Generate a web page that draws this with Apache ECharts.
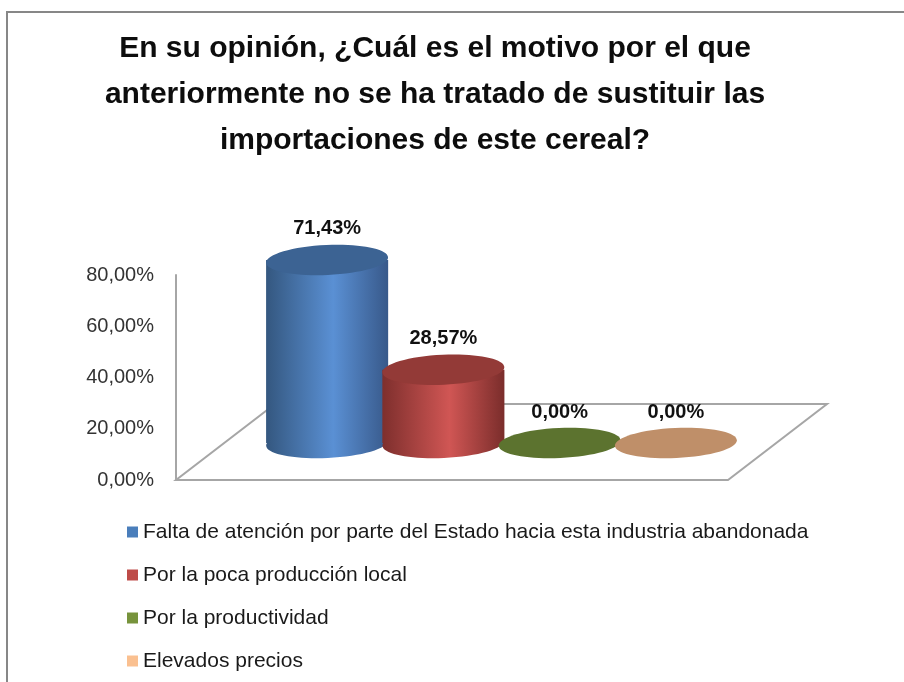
<!DOCTYPE html>
<html>
<head>
<meta charset="utf-8">
<title>Motivo de no sustituir importaciones</title>
<script src="https://cdn.jsdelivr.net/npm/echarts@6/dist/echarts.min.js"></script>
<style>
  html, body { margin: 0; padding: 0; background: #fff; }
  #main { width: 904px; height: 682px; }
</style>
</head>
<body>
<div id="main"></div>
<script>
// datos del grafico
var categories = [
  'Falta de atención por parte del Estado hacia esta industria abandonada',
  'Por la poca producción local',
  'Por la productividad',
  'Elevados precios'
];
var values = [71.43, 28.57, 0, 0];
var yTicks = [0, 20, 40, 60, 80];

// colores de la leyenda
var legendColors = ['#4A7EBB', '#BE4B48', '#77933C', '#FAC090'];
// cuerpo del cilindro (borde, centro, borde) y tapa
var bodyColors = [
  ['#34577F', '#5A90D4', '#38598A'],
  ['#7E2F2D', '#D05654', '#7A2D2B'],
  ['#4E6228', '#6E8A38', '#4E6228'],
  ['#A77A57', '#C99A74', '#A77A57']
];
var topColors = ['#3C6393', '#933A37', '#5C732F', '#BF8F69'];

var FONT = 'Liberation Sans';
var DEPTH_DY = -37;   // desplazamiento de profundidad (3D)
var ELL_RY = 15;
var ELL_TILT = 0.045; // inclinacion de las elipses
var BAR_RATIO = 1.05;

function fmt(v) {
  return v.toFixed(2).replace('.', ',') + '%';
}

function ellipse(cx, cy, rx, fill) {
  return {
    type: 'ellipse',
    shape: { cx: cx, cy: cy, rx: rx, ry: ELL_RY },
    rotation: ELL_TILT,
    originX: cx,
    originY: cy,
    style: { fill: fill }
  };
}

function renderCylinder(params, api) {
  var i = api.value(0);
  var v = api.value(1);
  var base = api.coord([i, 0]);
  var top = api.coord([i, v]);
  var w = api.size([1, 0])[0] * BAR_RATIO;
  var rx = w / 2;
  var cx = base[0];
  var by = base[1] + DEPTH_DY;
  var ty = top[1] + DEPTH_DY;
  var c = bodyColors[i];
  var grad = function () {
    return new echarts.graphic.LinearGradient(0, 0, 1, 0, [
      { offset: 0, color: c[0] },
      { offset: 0.55, color: c[1] },
      { offset: 1, color: c[2] }
    ]);
  };
  var children = [];
  if (by - ty > 0.5) {
    children.push(ellipse(cx, by, rx, grad()));
    children.push({ type: 'rect', shape: { x: cx - rx, y: ty, width: w, height: by - ty }, style: { fill: grad() } });
  }
  children.push(ellipse(cx, ty, rx, topColors[i]));
  children.push({
    type: 'text',
    style: {
      text: fmt(v), x: cx, y: ty - 31, align: 'center', verticalAlign: 'middle',
      font: 'bold 20px "' + FONT + '"', fill: '#111'
    }
  });
  return { type: 'group', children: children };
}

var chart = echarts.init(document.getElementById('main'));

var series = categories.map(function (name, i) {
  return {
    name: name,
    type: 'custom',
    renderItem: renderCylinder,
    itemStyle: { color: legendColors[i] },
    encode: { x: 0, y: 1 },
    data: [[i, values[i]]],
    z: 5
  };
});

var option = {
  animation: false,
  backgroundColor: '#fff',
  title: {
    text: 'En su opinión, ¿Cuál es el motivo por el que\nanteriormente no se ha tratado de sustituir las\nimportaciones de este cereal?',
    left: 430,
    top: 21,
    textAlign: 'center',
    textStyle: { fontFamily: FONT, fontWeight: 'bold', fontSize: 30, lineHeight: 46, color: '#0d0d0d' }
  },
  legend: {
    orient: 'vertical',
    left: 122,
    top: 516,
    itemWidth: 11,
    itemHeight: 11,
    itemGap: 21,
    icon: 'rect',
    data: categories,
    textStyle: { fontFamily: FONT, fontSize: 21, lineHeight: 22, color: '#1a1a1a' }
  },
  grid: { left: 269, right: 170, top: 275, bottom: 202 },
  xAxis: {
    type: 'category',
    data: categories,
    axisLine: { show: false },
    axisTick: { show: false },
    axisLabel: { show: false },
    splitLine: { show: false }
  },
  yAxis: {
    type: 'value',
    min: yTicks[0],
    max: yTicks[yTicks.length - 1],
    interval: yTicks[1] - yTicks[0],
    offset: 93,
    axisLine: { show: true, lineStyle: { color: '#A6A6A6', width: 2 } },
    axisTick: { show: false },
    splitLine: { show: false },
    axisLabel: {
      margin: 22,
      fontFamily: FONT,
      fontSize: 20,
      color: '#333',
      formatter: function (v) { return fmt(v); }
    }
  },
  graphic: [
    // marco del grafico
    {
      type: 'rect',
      shape: { x: 7, y: 12, width: 920, height: 700 },
      style: { fill: 'none', stroke: '#878787', lineWidth: 2 },
      silent: true
    },
    // piso 3D
    {
      type: 'polygon',
      shape: { points: [[176, 480], [728, 480], [827, 404], [275, 404]] },
      style: { fill: 'none', stroke: '#A6A6A6', lineWidth: 2 },
      silent: true,
      z: 0
    }
  ],
  series: series
};

chart.setOption(option);
</script>
</body>
</html>
